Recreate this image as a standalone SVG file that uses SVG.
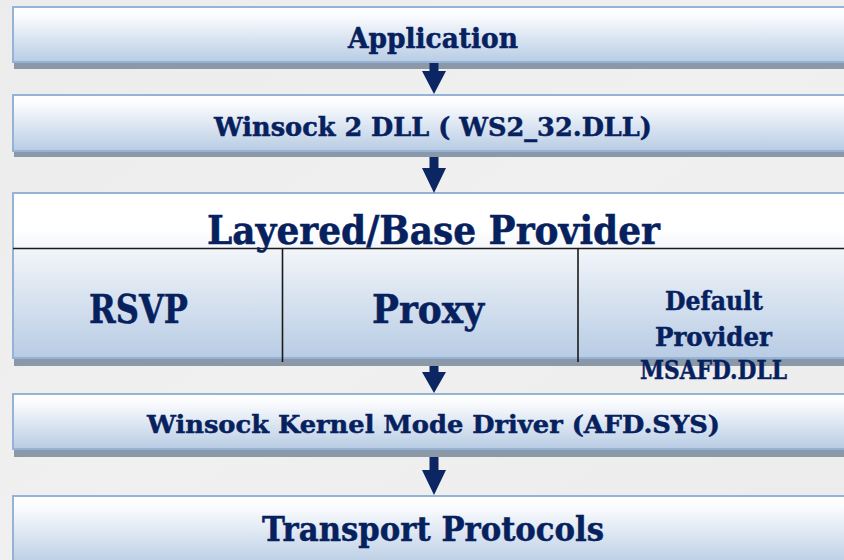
<svg xmlns="http://www.w3.org/2000/svg" width="844" height="560" viewBox="0 0 844 560">
  <defs>
    <linearGradient id="barFill" x1="0" y1="0" x2="0" y2="1">
      <stop offset="0" stop-color="#FFFFFF"/>
      <stop offset="0.15" stop-color="#FBFCFE"/>
      <stop offset="1" stop-color="#B8CCE4"/>
    </linearGradient>
    <linearGradient id="providerFill" x1="0" y1="0" x2="0" y2="1">
      <stop offset="0" stop-color="#FFFFFF"/>
      <stop offset="0.22" stop-color="#FFFFFF"/>
      <stop offset="0.36" stop-color="#F0F4F9"/>
      <stop offset="1" stop-color="#B8CCE4"/>
    </linearGradient>
    <linearGradient id="bgFill" x1="0" y1="0" x2="1" y2="1">
      <stop offset="0" stop-color="#ECECEC"/>
      <stop offset="0.5" stop-color="#F0F0F0"/>
      <stop offset="1" stop-color="#ECECEC"/>
    </linearGradient>
  </defs>
  <style>
    .shadow { fill: #8A98A8; }
    .bar { fill: url(#barFill); stroke: #95B3D7; stroke-width: 2; }
    .provider { fill: url(#providerFill); stroke: #95B3D7; stroke-width: 2; }
    .divider { stroke: #1A1A1A; stroke-width: 1.6; fill: none; }
    .label { font-family: "DejaVu Serif", "Liberation Serif", serif; font-weight: bold; fill: #06215E; stroke: #06215E; stroke-width: 0.5; text-anchor: middle; }
    .arrow { fill: #0B2663; }
  </style>

  <rect width="844" height="560" fill="url(#bgFill)"/>

  <g id="application">
    <rect class="shadow" x="14" y="14" width="840" height="55"/>
    <rect class="bar" x="13" y="7" width="840" height="55"/>
    <text class="label" x="433" y="48" font-size="27" textLength="170" lengthAdjust="spacingAndGlyphs">Application</text>
  </g>

  <g id="winsock-dll">
    <rect class="shadow" x="14" y="102" width="840" height="55"/>
    <rect class="bar" x="13" y="95" width="840" height="56"/>
    <text class="label" x="433" y="136" font-size="26" textLength="438" lengthAdjust="spacingAndGlyphs">Winsock 2 DLL ( WS2_32.DLL)</text>
  </g>

  <g id="provider">
    <rect class="shadow" x="14" y="201" width="840" height="165"/>
    <rect class="provider" x="13" y="193" width="840" height="165"/>
    <line class="divider" x1="13" y1="248.5" x2="853" y2="248.5"/>
    <line class="divider" x1="282.5" y1="248.5" x2="282.5" y2="362"/>
    <line class="divider" x1="578" y1="248.5" x2="578" y2="362"/>
    <text class="label" x="433.5" y="244" font-size="39" textLength="453" lengthAdjust="spacingAndGlyphs">Layered/Base Provider</text>
  </g>

  <g id="rsvp">
    <text class="label" x="138.5" y="323" font-size="39" textLength="99" lengthAdjust="spacingAndGlyphs">RSVP</text>
  </g>

  <g id="proxy">
    <text class="label" x="428" y="323" font-size="39" textLength="112" lengthAdjust="spacingAndGlyphs">Proxy</text>
  </g>

  <g id="default-provider">
    <text class="label" x="714" y="310" font-size="26" textLength="98" lengthAdjust="spacingAndGlyphs">Default</text>
    <text class="label" x="713.5" y="346" font-size="26" textLength="117" lengthAdjust="spacingAndGlyphs">Provider</text>
    <text class="label" x="713.5" y="379" font-size="26" textLength="147" lengthAdjust="spacingAndGlyphs">MSAFD.DLL</text>
  </g>

  <g id="kernel-driver">
    <rect class="shadow" x="14" y="402" width="840" height="55"/>
    <rect class="bar" x="13" y="394" width="840" height="55"/>
    <text class="label" x="433.5" y="433" font-size="25" textLength="573" lengthAdjust="spacingAndGlyphs">Winsock Kernel Mode Driver (AFD.SYS)</text>
  </g>

  <g id="transport">
    <rect class="bar" x="13" y="496" width="840" height="70"/>
    <text class="label" x="433" y="541" font-size="33" textLength="342" lengthAdjust="spacingAndGlyphs">Transport Protocols</text>
  </g>

  <g id="connectors">
    <path class="arrow" d="M429.5,63 H438.5 V71 H446 L434,94 L422,71 H429.5 Z"/>
    <path class="arrow" d="M429.5,157 H438.5 V168 H446 L434,193 L422,168 H429.5 Z"/>
    <path class="arrow" d="M429.5,366 H438.5 V372 H446 L434,393 L422,372 H429.5 Z"/>
    <path class="arrow" d="M429.5,457 H438.5 V470 H446 L434,495 L422,470 H429.5 Z"/>
  </g>
</svg>
